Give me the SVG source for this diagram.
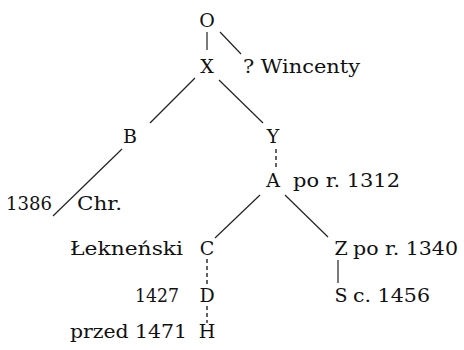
<svg xmlns="http://www.w3.org/2000/svg" width="464" height="350" viewBox="0 0 464 350">
<style>
text{font-family:"DejaVu Serif","Liberation Serif",serif;font-size:19px;fill:#111}
.n{text-anchor:middle}
.l{stroke:#222;stroke-width:1.2;fill:none}
.d{stroke:#222;stroke-width:1.4;fill:none;stroke-dasharray:4 3}
</style>
<rect width="464" height="350" fill="#fff"/>
<g id="connectors">
<line class="l" x1="207" y1="32" x2="207" y2="50"/>
<line class="l" x1="220" y1="32" x2="241" y2="54"/>
<line class="l" x1="195" y1="78" x2="150" y2="123"/>
<line class="l" x1="219" y1="80" x2="263" y2="123"/>
<line class="l" x1="122" y1="149" x2="53" y2="216"/>
<line class="d" x1="276" y1="149" x2="276" y2="170"/>
<line class="l" x1="260" y1="195" x2="215" y2="238"/>
<line class="l" x1="285" y1="195" x2="328" y2="237"/>
<line class="l" x1="338" y1="260" x2="338" y2="283"/>
<line class="d" x1="207" y1="259" x2="207" y2="287"/>
<line class="d" x1="207" y1="306" x2="207" y2="323"/>
</g>
<g id="O"><text class="n" x="207" y="27">O</text></g>
<g id="X"><text class="n" x="207" y="73">X</text></g>
<g id="Wincenty"><text x="243" y="73" textLength="117" lengthAdjust="spacingAndGlyphs">? Wincenty</text></g>
<g id="B"><text class="n" x="130" y="143">B</text></g>
<g id="Chr"><text x="6" y="210" textLength="46" lengthAdjust="spacingAndGlyphs">1386</text><text x="77" y="210" textLength="45" lengthAdjust="spacingAndGlyphs">Chr.</text></g>
<g id="Y"><text class="n" x="273" y="143">Y</text></g>
<g id="A"><text class="n" x="273" y="187">A</text><text x="293" y="187" textLength="107" lengthAdjust="spacingAndGlyphs">po r. 1312</text></g>
<g id="C"><text class="n" x="207" y="255">C</text><text x="70" y="255" textLength="113" lengthAdjust="spacingAndGlyphs">Łekneński</text></g>
<g id="Z"><text class="n" x="341" y="255">Z</text><text x="353" y="255" textLength="105" lengthAdjust="spacingAndGlyphs">po r. 1340</text></g>
<g id="D"><text class="n" x="207" y="302">D</text><text x="135" y="302" textLength="44" lengthAdjust="spacingAndGlyphs">1427</text></g>
<g id="S"><text class="n" x="341" y="302">S</text><text x="353" y="302" textLength="77" lengthAdjust="spacingAndGlyphs">c. 1456</text></g>
<g id="H"><text class="n" x="207" y="338">H</text><text x="70" y="338" textLength="117" lengthAdjust="spacingAndGlyphs">przed 1471</text></g>
</svg>
